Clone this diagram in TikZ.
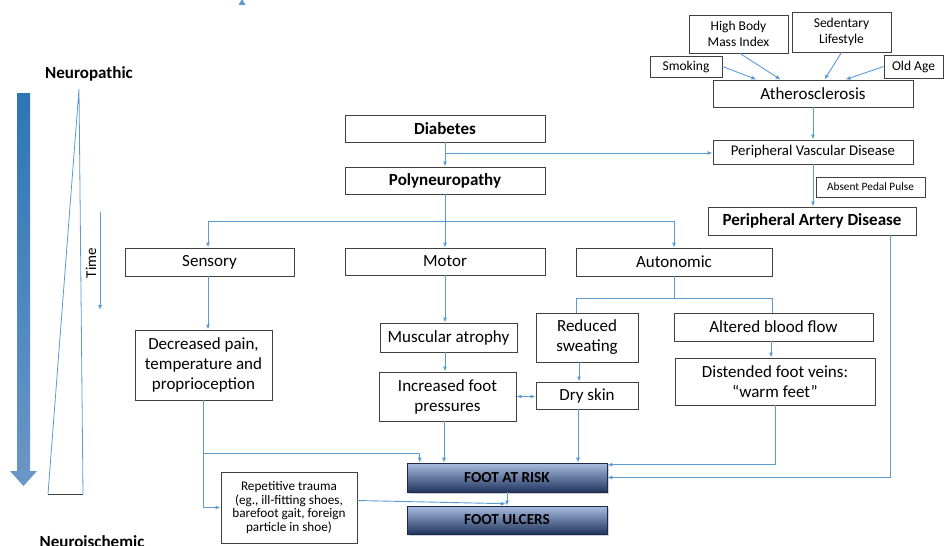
\documentclass[tikz,border=0pt]{standalone}
\usepackage{fontspec}
\setmainfont{Carlito}
\usetikzlibrary{calc,arrows.meta,shadows}
\definecolor{arrc}{HTML}{5B9BD5}
\definecolor{boxc}{HTML}{404040}
\definecolor{bigtop}{HTML}{2E75B6}
\definecolor{bigmid}{HTML}{1F4E79}
\definecolor{bigbot}{HTML}{6B97C6}
\definecolor{rtop}{HTML}{A9BDE0}
\definecolor{rmid}{HTML}{5674AC}
\definecolor{rbot}{HTML}{22355F}
\begin{document}
\begin{tikzpicture}[x=1pt,y=-1pt,
  box/.style={draw=boxc,line width=0.9pt,fill=white,align=center,inner sep=0pt},
  big/.style={font=\fontsize{17}{20}\selectfont},
  bigb/.style={font=\fontsize{17}{20}\selectfont\bfseries},
  small/.style={font=\fontsize{13.5}{16.5}\selectfont},
  arr/.style={draw=arrc,line width=0.9pt,-{Latex[length=5pt,width=4pt]}},
  ln/.style={draw=arrc,line width=0.9pt},
  risk/.style={draw=rbot!80!black,line width=0.6pt,top color=rtop,middle color=rmid,bottom color=rbot,
     font=\fontsize{15.3}{18}\selectfont\bfseries,inner sep=0pt,drop shadow={opacity=0.35,shadow xshift=1.5pt,shadow yshift=-1.5pt}}
]
\useasboundingbox (0,0) rectangle (945,546);
% left side
\shade[top color=bigtop,middle color=bigmid,bottom color=bigbot]
  (17,93) -- (30,93) -- (30,471) -- (37,471) -- (23.5,486) -- (10,471) -- (17,471) -- cycle;
\coordinate (tA) at (79,89);
\coordinate (tB) at (48,494);
\coordinate (tC) at (83,494);
\draw[ln,line width=0.8pt] (tB) -- (tA) -- (tC);
\draw[boxc,line width=0.8pt] (tB) -- (tC);
\node[bigb] (neup) at (89,74) {Neuropathic};
\node[bigb] (neui) at (92,542) {Neuroischemic};
\coordinate (t1) at (100,212);
\coordinate (t2) at (100,310);
\draw[arr] (t1) -- (t2);
\node[font=\fontsize{15}{18}\selectfont,rotate=90] (time) at (91,263) {Time};
% stray tip at top
\fill[arrc] (238.5,5) -- (242,-1) -- (245.5,5) -- cycle;
% right top
\node[box,small,minimum width=99pt,minimum height=38pt] (hbmi) at (738.5,34) {High Body\\Mass Index};
\node[box,small,minimum width=99pt,minimum height=40pt] (sed) at (841.5,32) {Sedentary\\Lifestyle};
\node[box,small,minimum width=72pt,minimum height=21pt] (smk) at (686,66.5) {Smoking};
\node[box,small,minimum width=59pt,minimum height=23pt] (old) at (913.5,66.5) {Old Age};
\node[box,big,minimum width=200pt,minimum height=27pt] (ath) at (813,93.5) {Atherosclerosis};
\node[box,font=\fontsize{14.8}{17}\selectfont,minimum width=200pt,minimum height=24pt] (pvd) at (813,152) {Peripheral Vascular Disease};
\node[box,font=\fontsize{11.3}{13}\selectfont,minimum width=109pt,minimum height=20pt] (app) at (870.5,187) {Absent Pedal Pulse};
\node[box,bigb,minimum width=208pt,minimum height=28pt] (pad) at (812,221) {Peripheral Artery Disease};
% center
\node[box,bigb,minimum width=200pt,minimum height=27pt] (dia) at (445,128.5) {Diabetes};
\node[box,bigb,minimum width=200pt,minimum height=27pt] (poly) at (445,180.5) {Polyneuropathy};
\node[box,big,minimum width=169pt,minimum height=28pt] (sens) at (209.5,262) {Sensory};
\node[box,big,minimum width=200pt,minimum height=27pt] (mot) at (445,261.5) {Motor};
\node[box,big,minimum width=196pt,minimum height=28pt] (aut) at (674,262) {Autonomic};
\node[box,big,minimum width=137pt,minimum height=70pt] (dec) at (203.5,365) {Decreased pain,\\temperature and\\proprioception};
\node[box,big,minimum width=137pt,minimum height=29pt] (mus) at (448.5,337.5) {Muscular atrophy};
\node[box,big,minimum width=137pt,minimum height=49pt] (inc) at (447.5,396.5) {Increased foot\\pressures};
\node[box,big,minimum width=102pt,minimum height=49pt] (red) at (587,337.5) {Reduced\\sweating};
\node[box,big,minimum width=102pt,minimum height=27pt] (dry) at (587,395.5) {Dry skin};
\node[box,big,minimum width=199pt,minimum height=28pt] (alt) at (773.5,327) {Altered blood flow};
\node[box,big,minimum width=200pt,minimum height=47pt] (dis) at (775,381.5) {Distended foot veins:\\“warm feet”};
\node[risk,minimum width=200pt,minimum height=29pt] (far) at (507,477.5) {FOOT AT RISK};
\node[risk,minimum width=200pt,minimum height=28pt] (ulc) at (507,520) {FOOT ULCERS};
\node[box,font=\fontsize{13.2}{13.6}\selectfont,minimum width=136pt,minimum height=71pt] (trm) at (289,507.5) {Repetitive trauma\\(eg., ill-fitting shoes,\\barefoot gait, foreign\\particle in shoe)};
% helper coordinates
\coordinate (sS) at ($(sens.south)+(-1.5,0)$);
\coordinate (iS) at ($(inc.south)+(-3.5,0)$);
\coordinate (rS) at ($(red.south)+(-8,0)$);
\coordinate (dS) at ($(dry.south)+(-9,0)$);
\coordinate (aS) at ($(alt.south)+(-2.5,0)$);
\coordinate (rN) at ($(red.north)+(-11,0)$);
\coordinate (alN) at ($(alt.north)+(-1.5,0)$);
\coordinate (sN) at ($(sens.north)+(-1.5,0)$);
\coordinate (fN) at ($(far.north west)+(13,0)$);
\coordinate (fE) at ($(far.north east)+(0,2)$);
\coordinate (pS) at ($(pad.south east)+(-26,0)$);
\coordinate (tE) at ($(trm.east)+(0,-7)$);
\coordinate (uN) at ($(ulc.north)+(-1,-2)$);
% connectors top right
\draw[arr] (smk.east) -- ($(ath.north west)+(44,0)$);
\draw[arr] ($(hbmi.south)+(1.5,0)$) -- ($(ath.north west)+(68,0)$);
\draw[arr] (sed.south) -- ($(ath.north west)+(112,0)$);
\draw[arr] (old.west) -- ($(ath.north west)+(133,0)$);
\draw[arr] (ath.south) -- (pvd.north);
\draw[arr] (pvd.south) -- (pvd.south |- pad.north);
% center connectors
\coordinate (j1) at (445,153);
\draw[arr] (dia.south) -- (poly.north);
\draw[arr] (j1) -- (pvd.west |- j1);
\draw[arr] (poly.south) -- (mot.north);
\coordinate (bus) at (445,221);
\draw[arr] (bus) -| (sN);
\draw[arr] (bus) -| (aut.north);
\draw[arr] (sS) -- (sS |- dec.north);
\draw[arr] (mot.south) -- (mot.south |- mus.north);
\draw[arr] (mot.south |- mus.south) -- (mot.south |- inc.north);
\draw[arr] (iS) -- (iS |- far.north);
\draw[draw=arrc,line width=0.9pt,{Latex[length=5pt,width=4pt]}-{Latex[length=5pt,width=4pt]}] (inc.east) -- (inc.east -| dry.west);
\coordinate (j3) at (674,298);
\draw[ln] (aut.south) -- (j3);
\draw[ln] (j3) -| (rN);
\draw[ln] (j3) -| (alN);
\draw[arr] (rS) -- (rS |- dry.north);
\draw[arr] (dS) -- (dS |- far.north);
\draw[arr] (aS) -- (aS |- dis.north);
\draw[arr] (dis.south) |- (fE);
\draw[arr] (pS) |- (far.east);
\draw[arr] (far.south) -- (ulc.north);
% left connectors
\draw[arr] (dec.south) |- (trm.west);
\coordinate (j2) at (dec.south |- 0,453);
\draw[arr] (j2) -| (fN);
\draw[arr] (tE) -- (uN);
\end{tikzpicture}
\end{document}
